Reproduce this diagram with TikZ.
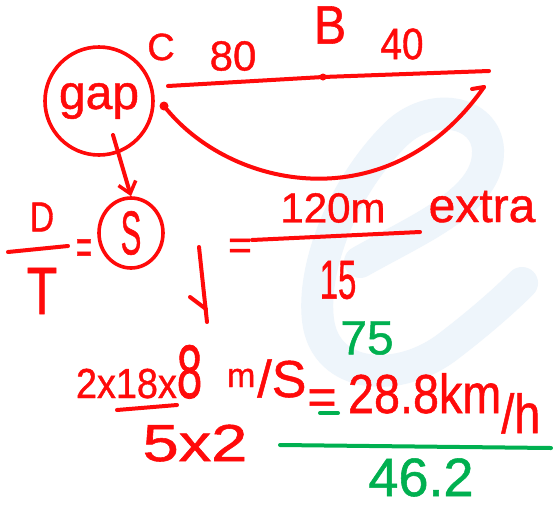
\documentclass[tikz,border=0pt]{standalone}
\usepackage{fontspec}
\setmainfont[FakeBold=1]{Liberation Sans}
\usetikzlibrary{shapes.geometric,arrows.meta}
\definecolor{inkred}{HTML}{FF0A0A}
\definecolor{inkgreen}{HTML}{00B050}
\definecolor{wmblue}{HTML}{EEF5FB}
\newcommand{\fs}[1]{\fontsize{#1}{#1}\selectfont}
\begin{document}
\begin{tikzpicture}[x=1pt,y=-1pt,
  ink/.style={draw=inkred, line width=4pt, line cap=round, line join=round},
  gink/.style={draw=inkgreen, line width=4pt, line cap=round},
  txt/.style={text=inkred, inner sep=0pt, outer sep=0pt},
  gtxt/.style={text=inkgreen, inner sep=0pt, outer sep=0pt}]
\useasboundingbox (0,0) rectangle (553,509);
\fill[white] (0,0) rectangle (553,509);
% faint watermark "e"
\draw[wmblue, line width=32pt, line cap=round]
  (360,262) .. controls (420,228) and (490,200) .. (488,150)
  .. controls (486,110) and (430,100) .. (395,135)
  .. controls (340,190) and (312,270) .. (318,320)
  .. controls (325,380) and (400,385) .. (450,345)
  .. controls (480,322) and (505,300) .. (522,283);
% top: gap circle, segment C--B--end, return curve
\node[circle, draw=inkred, line width=3.6pt, minimum size=108pt, inner sep=0pt,
      text=inkred, font=\fs{48}] (gap) at (99,101) {\raisebox{-6pt}{gap}};
\node[txt, font=\fs{38}] (C) at (161,47) {C};
\node[txt, font=\fs{42}] (n80) at (233,56) {80};
\node[txt, font=\fs{54}] (B) at (330,25) {\scalebox{0.9}[1]{B}};
\node[txt, font=\fs{44}] (n40) at (402,44) {\scalebox{0.88}[1]{40}};
\coordinate (lc) at (168,86);
\coordinate (lb) at (323,77);
\coordinate (le) at (489,71);
\draw[ink] (lc) -- (lb) -- (le);
\fill[inkred] (lb) circle (3.5);
\coordinate (cs) at (164,106);
\coordinate (ce) at (484,87);
\coordinate (cbarb) at (472,89);
\draw[ink] (cs) .. controls (230,190) and (390,222) .. (ce);
\draw[ink] (ce) -- (cbarb);
\fill[inkred] (cs) circle (4.5);
% D/T = S
\node[ellipse, draw=inkred, line width=3.6pt, minimum width=64pt, minimum height=70pt,
      inner sep=0pt, text=inkred, font=\fs{62}] (S) at (131,233) {\scalebox{0.5}[1]{S}};
\coordinate (gs) at (113,135);
\draw[ink, -{Straight Barb[length=11pt, width=18pt, line width=3.5pt]}] (gs) -- (S.north);
\node[txt, font=\fs{42}] (D) at (42,217) {\scalebox{0.8}[1]{D}};
\coordinate (fl1) at (8,252);
\coordinate (fr1) at (68,246);
\draw[ink] (fl1) -- (fr1);
\node[txt, font=\fs{67}] (T) at (42,291) {\scalebox{0.75}[1]{T}};
\node[txt, font=\fs{50}, anchor=base] (eq1) at (84,264) {\scalebox{0.55}[1]{=}};
% = 120m extra / 15
\node[txt, font=\fs{41}, anchor=base] (eq2) at (240,259) {=};
\coordinate (fl2) at (252,240);
\coordinate (fr2) at (420,232);
\draw[ink] (fl2) -- (fr2);
\node[txt, font=\fs{42}] (num) at (333,208) {120m};
\node[txt, font=\fs{48}, anchor=base] (extra) at (482,222) {extra};
\node[txt, font=\fs{55}] (den) at (338,280) {\scalebox{0.6}[1]{15}};
\node[gtxt, font=\fs{48}] (g75) at (367,338) {75};
% down arrow
\coordinate (da) at (199,247);
\coordinate (db) at (207,322);
\coordinate (dbarb) at (190,297);
\coordinate (dmeet) at (206,309);
\draw[ink] (da) -- (db);
\draw[ink] (dbarb) -- (dmeet);
% lower computation
\node[txt, anchor=base west] (lhs) at (76,398)
  {\scalebox{0.9}[1]{\fs{42}2x18x}\scalebox{0.6}[1]{\fs{76}8}};
\coordinate (ul1) at (117,410);
\coordinate (ul2) at (177,405);
\draw[ink] (ul1) -- (ul2);
\node[txt, anchor=base west] (ms) at (227,397)
  {\raisebox{10pt}{\fs{34}m}\hspace{2pt}{\fs{52}/S}};
\node[txt, font=\fs{50}, anchor=base] (eq3) at (322,414) {=};
\coordinate (gd1) at (320,413);
\coordinate (gd2) at (338,413);
\draw[gink] (gd1) -- (gd2);
\node[txt, anchor=base west, font=\fs{55}] (res) at (348,413)
  {\scalebox{0.85}[1]{28.8km\raisebox{-20pt}{/h}}};
\node[txt, anchor=base, font=\fs{52}] (den2) at (195,461) {\scalebox{1.25}[1]{5x2}};
\coordinate (gl1) at (280,445);
\coordinate (gl2) at (551,448);
\draw[gink] (gl1) -- (gl2);
\node[gtxt, anchor=base, font=\fs{54}] (g462) at (421,496) {46.2};
\end{tikzpicture}
\end{document}
